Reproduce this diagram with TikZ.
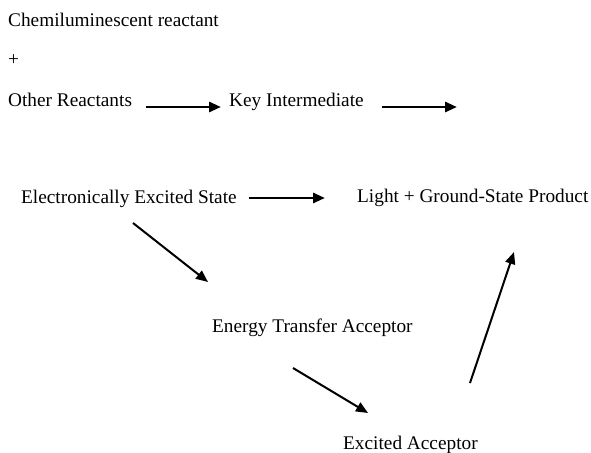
\documentclass[tikz,border=0pt]{standalone}
\usepackage{fontspec}
\setmainfont{Liberation Serif}
\usetikzlibrary{arrows.meta}
\begin{document}
\begin{tikzpicture}[x=1pt,y=-1pt,
  lbl/.style={anchor=base west,inner sep=0pt,font=\fontsize{19.3}{22}\selectfont},
  harrow/.style={line width=2.8pt,-{Triangle[length=12pt,width=10pt]}},
  darrow/.style={line width=2pt,-{Triangle[length=12pt,width=10pt]}}]
\useasboundingbox (0,0) rectangle (591,452);
\node[lbl] (chem) at (8,27) {Chemiluminescent reactant};
\node[lbl] (plus) at (8,66) {+};
\node[lbl] (other) at (8,106) {Other Reactants};
\node[lbl] (key) at (229,106) {Key Intermediate};
\node[lbl] (ees) at (21,203) {Electronically Excited State};
\node[lbl] (light) at (357,202) {Light + Ground-State Product};
\node[lbl] (eta) at (212,332) {Energy Transfer Acceptor};
\node[lbl] (exa) at (343,449) {Excited Acceptor};
\coordinate (a1s) at (146,107); \coordinate (a1e) at (221,107);
\coordinate (a2s) at (382,107); \coordinate (a2e) at (457,107);
\coordinate (a3s) at (249,198); \coordinate (a3e) at (325,198);
\coordinate (d1s) at (133,223); \coordinate (d1e) at (208,282);
\coordinate (d2s) at (293,368); \coordinate (d2e) at (368,413);
\coordinate (d3s) at (470,383); \coordinate (d3e) at (514,252);
\draw[harrow] (a1s) -- (a1e);
\draw[harrow] (a2s) -- (a2e);
\draw[harrow] (a3s) -- (a3e);
\draw[darrow] (d1s) -- (d1e);
\draw[darrow] (d2s) -- (d2e);
\draw[darrow] (d3s) -- (d3e);
\end{tikzpicture}
\end{document}
